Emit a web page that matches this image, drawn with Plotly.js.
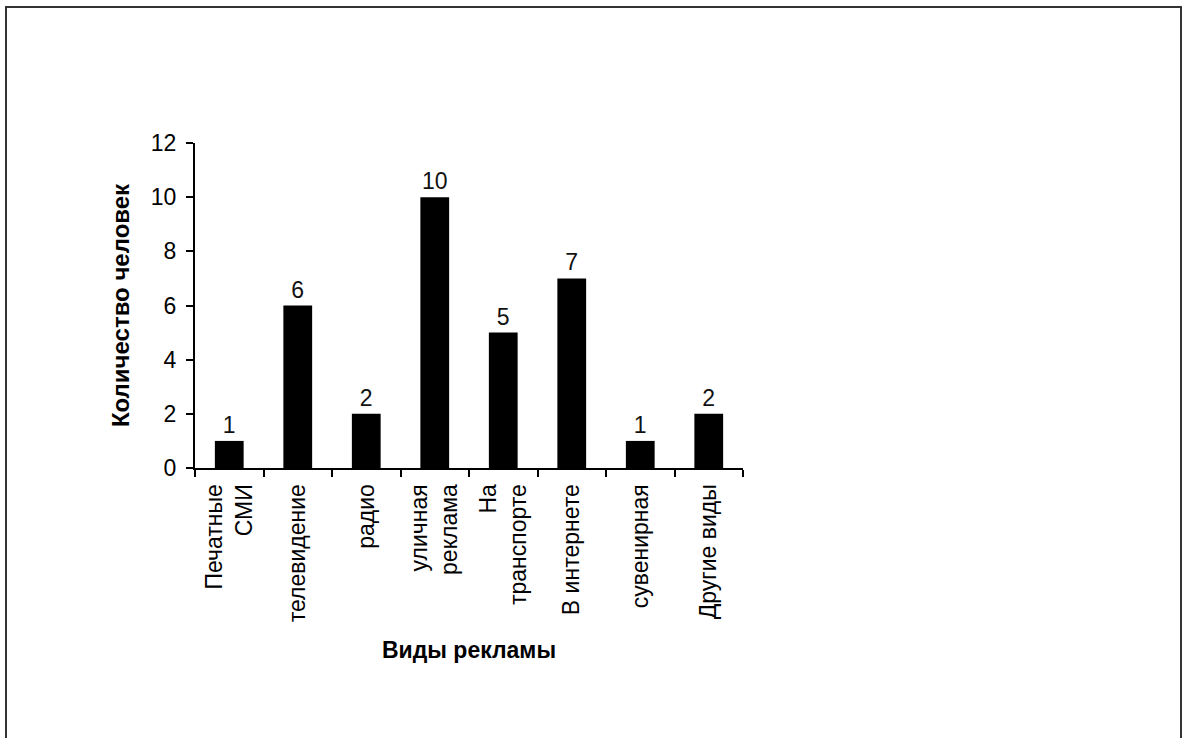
<!DOCTYPE html>
<html>
<head>
<meta charset="utf-8">
<script src="https://cdn.plot.ly/plotly-3.0.1.min.js"></script>
<style>
  html, body { margin: 0; padding: 0; background: #fff; }
  #frame { position: absolute; left: 5px; top: 6px; width: 1173px; height: 760px;
           border-top: 2px solid #333; border-left: 2px solid #333; border-right: 2px solid #333; }
  #chart { position: absolute; left: 0; top: 0; width: 1184px; height: 738px; }
</style>
</head>
<body>
<div id="frame"></div>
<div id="chart"></div>
<script>
const categories = ["Печатные<br>СМИ", "телевидение", "радио", "уличная<br>реклама", "На<br>транспорте", "В интернете", "сувенирная", "Другие виды"];
const counts = [1, 6, 2, 10, 5, 7, 1, 2];
const yTickVals = [0, 2, 4, 6, 8, 10, 12];
const xTitle = "Виды рекламы";
const yTitle = "Количество человек";

const font = "'Liberation Sans', Arial, sans-serif";

Plotly.newPlot("chart", [{
  type: "bar",
  x: categories,
  y: counts,
  marker: { color: "#000000", line: { width: 0 } },
  text: counts.map(String),
  textposition: "outside",
  cliponaxis: false,
  textfont: { family: font, size: 23, color: "#111" },
  hoverinfo: "skip"
}], {
  width: 1184, height: 738,
  paper_bgcolor: "rgba(0,0,0,0)",
  plot_bgcolor: "rgba(0,0,0,0)",
  margin: { l: 195, r: 441, t: 143, b: 270 },
  bargap: 0.58,
  showlegend: false,
  font: { family: font, color: "#000" },
  xaxis: {
    type: "category",
    showline: true, linecolor: "#000", linewidth: 2,
    ticks: "outside", tickson: "boundaries", ticklen: 7, tickwidth: 2, tickcolor: "#000",
    tickangle: -90, ticklabelstandoff: 5,
    tickfont: { family: font, size: 23, color: "#000" },
    showgrid: false, zeroline: false,
    title: { text: xTitle, font: { family: font, size: 23, color: "#000", weight: "bold" }, standoff: 21 }
  },
  yaxis: {
    range: [0, 12],
    tickvals: yTickVals,
    showline: true, linecolor: "#000", linewidth: 2,
    ticks: "outside", ticklen: 7, tickwidth: 2, tickcolor: "#000",
    ticklabelstandoff: 5,
    tickfont: { family: font, size: 23, color: "#000" },
    showgrid: false, zeroline: false,
    title: { text: yTitle, font: { family: font, size: 24, color: "#000", weight: "bold" }, standoff: 14 }
  }
}, { staticPlot: true });
</script>
</body>
</html>
